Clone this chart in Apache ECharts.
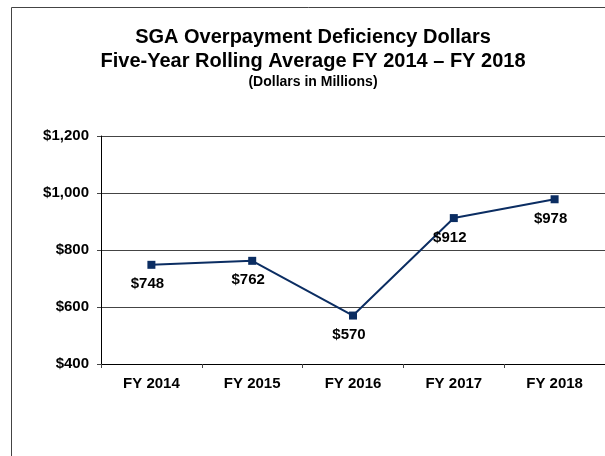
<!DOCTYPE html>
<html>
<head>
<meta charset="utf-8">
<script src="https://cdn.jsdelivr.net/npm/echarts@6/dist/echarts.min.js"></script>
<style>
  html, body { margin: 0; padding: 0; background: #fff; }
  #chart { width: 605px; height: 456px; }
</style>
</head>
<body>
<div id="chart"></div>
<script>
const years = ["FY 2014", "FY 2015", "FY 2016", "FY 2017", "FY 2018"];
const dollars = [748, 762, 570, 912, 978];
const yTicks = { min: 400, max: 1200, step: 200 };

const font = '"Liberation Sans", Arial, sans-serif';
const navy = "#0b2d62";

let chart = echarts.init(document.getElementById("chart"));
chart.setOption({
  animation: false,
  // outer frame, runs off the right and bottom edge like the original
  graphic: [
    {
      type: "rect",
      shape: { x: 11.5, y: 7.5, width: 700, height: 600 },
      style: { fill: "none", stroke: "#444", lineWidth: 1 },
      silent: true,
    },
  ],
  title: {
    text: "SGA Overpayment Deficiency Dollars\nFive-Year Rolling Average FY 2014 – FY 2018",
    subtext: "(Dollars in Millions)",
    left: 313,
    top: 25,
    textAlign: "center",
    itemGap: 0,
    padding: 0,
    textStyle: {
      fontFamily: font,
      fontWeight: "bold",
      fontSize: 20,
      lineHeight: 24,
      color: "#000",
    },
    subtextStyle: {
      fontFamily: font,
      fontWeight: "bold",
      fontSize: 14,
      lineHeight: 18,
      color: "#000",
    },
  },
  grid: {
    left: 101,
    top: 136,
    width: 506,
    height: 228,
    containLabel: false,
  },
  xAxis: {
    type: "category",
    data: years,
    boundaryGap: true,
    axisLine: { lineStyle: { color: "#000", width: 1 } },
    axisTick: { show: true, length: 4, lineStyle: { color: "#444" } },
    axisLabel: {
      fontFamily: font,
      fontWeight: "bold",
      fontSize: 15,
      color: "#000",
      margin: 12,
    },
  },
  yAxis: {
    type: "value",
    min: yTicks.min,
    max: yTicks.max,
    interval: yTicks.step,
    axisLine: { show: true, lineStyle: { color: "#000", width: 1 } },
    axisTick: { show: true, length: 4, lineStyle: { color: "#444" } },
    splitLine: { lineStyle: { color: "#444", width: 1 } },
    axisLabel: {
      fontFamily: font,
      fontWeight: "bold",
      fontSize: 15,
      color: "#000",
      margin: 12,
      formatter: (v) => "$" + v.toLocaleString("en-US"),
    },
  },
  series: [
    {
      type: "line",
      data: dollars,
      symbol: "rect",
      symbolSize: 8,
      lineStyle: { color: navy, width: 2 },
      itemStyle: { color: navy },
      label: {
        show: true,
        position: "bottom",
        distance: 8,
        offset: [-4, 0],
        fontFamily: font,
        fontWeight: "bold",
        fontSize: 15,
        color: "#000",
        formatter: (p) => "$" + p.value,
      },
    },
  ],
});
</script>
</body>
</html>
